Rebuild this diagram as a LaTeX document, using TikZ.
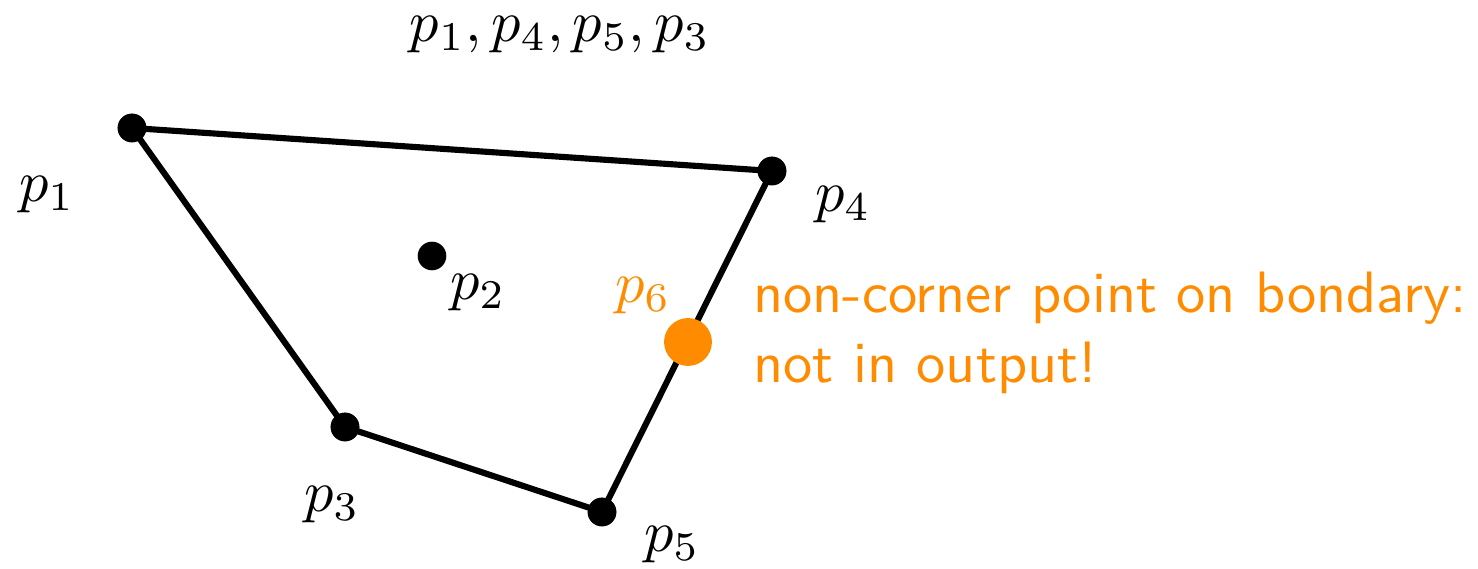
\documentclass[tikz,border=0pt]{standalone}
\usepackage{xcolor}
\definecolor{orng}{RGB}{255,140,0}
\begin{document}
\begin{tikzpicture}[x=0.1713pt,y=-0.1713pt,
  edge/.style={line width=1.05pt},
  pt/.style={circle,fill=black,inner sep=0pt,minimum size=4.9pt},
  bigpt/.style={circle,fill=orng,inner sep=0pt,minimum size=8.2pt},
  lbl/.style={inner sep=0pt}]
\useasboundingbox (0,0) rectangle (1478,569);
\node[pt] (p1) at (132,128) {};
\node[pt] (p4) at (772,171) {};
\node[pt] (p5) at (602,512) {};
\node[pt] (p3) at (345,427) {};
\node[pt] (p2) at (432,256) {};
\draw[edge] (p1.center) -- (p4.center) -- (p5.center) -- (p3.center) -- (p1.center);
\node[bigpt] (p6) at (688,342) {};
\node[pt] at (p1) {};
\node[pt] at (p4) {};
\node[pt] at (p5) {};
\node[pt] at (p3) {};
\node[lbl] (l1) at (47,195) {$p_1$};
\node[lbl] (l4) at (843,205) {$p_4$};
\node[lbl] (l2) at (478,293) {$p_2$};
\node[lbl] (l3) at (332,505) {$p_3$};
\node[lbl] (l5) at (672,545) {$p_5$};
\node[lbl,text=orng] (l6) at (643,296) {$p_6$};
\node[lbl] (title) at (560,35) {$p_1,p_4,p_5,p_3$};
\node[lbl,text=orng,font=\sffamily,align=left,anchor=base west] (note) at (752,383) {non-corner point on bondary:\\not in output!};
\end{tikzpicture}
\end{document}
